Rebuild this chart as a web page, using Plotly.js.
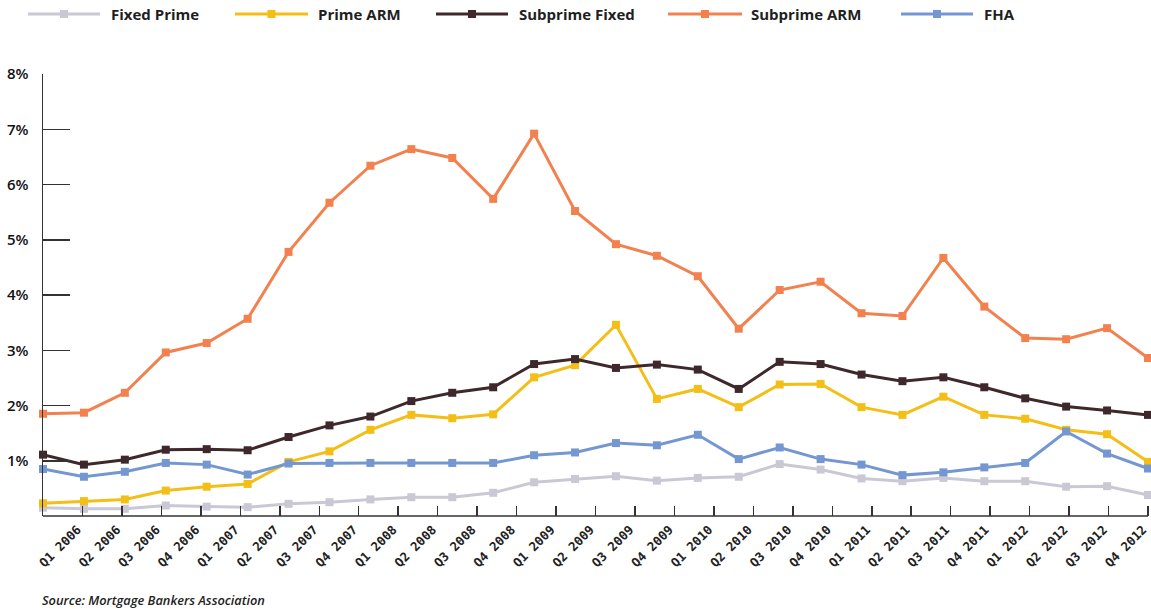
<!DOCTYPE html>
<html>
<head>
<meta charset="utf-8">
<script src="https://cdn.plot.ly/plotly-3.0.1.min.js"></script>
<style>html,body{margin:0;padding:0;background:#fff;}#chart{width:1151px;height:609px;}</style>
</head>
<body>
<div id="chart"></div>
<script>
const quarters = ['Q1 2006','Q2 2006','Q3 2006','Q4 2006','Q1 2007','Q2 2007','Q3 2007','Q4 2007',
  'Q1 2008','Q2 2008','Q3 2008','Q4 2008','Q1 2009','Q2 2009','Q3 2009','Q4 2009',
  'Q1 2010','Q2 2010','Q3 2010','Q4 2010','Q1 2011','Q2 2011','Q3 2011','Q4 2011',
  'Q1 2012','Q2 2012','Q3 2012','Q4 2012'];

const fixedPrime    = [0.15,0.13,0.13,0.19,0.17,0.16,0.22,0.25,0.30,0.34,0.34,0.42,0.61,0.67,0.72,0.64,0.69,0.71,0.94,0.84,0.68,0.63,0.69,0.63,0.63,0.53,0.54,0.38];
const primeARM      = [0.23,0.27,0.30,0.46,0.53,0.58,0.98,1.17,1.56,1.83,1.77,1.84,2.51,2.73,3.46,2.12,2.30,1.97,2.38,2.39,1.97,1.83,2.16,1.83,1.76,1.56,1.48,0.98];
const subprimeFixed = [1.11,0.93,1.02,1.20,1.21,1.19,1.43,1.64,1.80,2.08,2.23,2.33,2.75,2.84,2.68,2.74,2.65,2.30,2.79,2.75,2.56,2.44,2.51,2.33,2.13,1.98,1.91,1.83];
const subprimeARM   = [1.85,1.87,2.23,2.96,3.13,3.57,4.78,5.67,6.34,6.64,6.48,5.74,6.92,5.52,4.92,4.71,4.34,3.39,4.09,4.24,3.67,3.62,4.67,3.79,3.22,3.20,3.40,2.86];
const fha           = [0.85,0.71,0.80,0.96,0.93,0.75,0.95,0.96,0.96,0.96,0.96,0.96,1.10,1.15,1.32,1.28,1.47,1.03,1.24,1.03,0.93,0.74,0.79,0.88,0.96,1.53,1.13,0.86];

const seriesNames  = ['Fixed Prime','Prime ARM','Subprime Fixed','Subprime ARM','FHA'];
const seriesValues = [fixedPrime, primeARM, subprimeFixed, subprimeARM, fha];
const seriesColors = ['#cbc8d5','#f3bf17','#3f282c','#f2814f','#7497d1'];

const yTickVals   = [1,2,3,4,5,6,7,8];
const yTickLabels = ['1%','2%','3%','4%','5%','6%','7%','8%'];
const sourceText  = 'Source: Mortgage Bankers Association';

// pixel geometry: data span 43..1148, plot frame extended to 1150 so the last tick is not clipped
const W = 1151, H = 609;
const L = 43, R = 1148, RF = 1150, T = 74, B = 516;
const stretch = (RF - L) / (R - L);
const px = x => (x - L) / (RF - L);
const py = y => (B - y) / (B - T);

const traces = seriesNames.map((name, i) => ({
  type: 'scatter', mode: 'lines+markers', name: name,
  x: quarters, y: seriesValues[i],
  line: {color: seriesColors[i], width: 3},
  marker: {symbol: 'square', size: 8, color: seriesColors[i]},
  cliponaxis: false, showlegend: false, hoverinfo: 'x+y+name'
}));
// carrier trace for the label axis
traces.push({type: 'scatter', x: [], y: [], xaxis: 'x2', yaxis: 'y', showlegend: false, hoverinfo: 'skip'});

// custom legend geometry (pixels)
const legLine  = [[28,100],[235,308],[436,508],[668,742],[901,973]];
const legTextX = [110, 317, 518, 750, 983];
const legY = 14;

const shapes = [];
const annotations = [];
seriesNames.forEach((name, i) => {
  const [a, b] = legLine[i];
  shapes.push({type: 'line', xref: 'paper', yref: 'paper', x0: px(a), x1: px(b), y0: py(legY), y1: py(legY),
    line: {color: seriesColors[i], width: 3}});
  shapes.push({type: 'rect', xref: 'paper', yref: 'paper', xsizemode: 'pixel', ysizemode: 'pixel',
    xanchor: px((a + b) / 2), yanchor: py(legY), x0: -4, x1: 4, y0: -4, y1: 4,
    fillcolor: seriesColors[i], line: {width: 0}});
  annotations.push({xref: 'paper', yref: 'paper', x: px(legTextX[i]), y: py(legY), xanchor: 'left', yanchor: 'middle',
    showarrow: false, text: name, borderpad: 0,
    font: {family: 'Open Sans, sans-serif', size: 15, weight: 700, color: '#1f1f1f'}});
});
annotations.push({xref: 'paper', yref: 'paper', x: px(41), y: py(600), xanchor: 'left', yanchor: 'middle',
  showarrow: false, text: sourceText, borderpad: 0,
  font: {family: 'Open Sans, sans-serif', size: 12.8, weight: 600, style: 'italic', color: '#222'}});

const layout = {
  width: W, height: H,
  margin: {l: L, r: W - RF, t: T, b: H - B, pad: 0},
  paper_bgcolor: '#fff', plot_bgcolor: '#fff',
  showlegend: false,
  xaxis: {type: 'category', categoryorder: 'array', categoryarray: quarters,
    range: [0, (quarters.length - 1) * stretch], showticklabels: false, ticks: '', showgrid: false,
    zeroline: false, showline: false, fixedrange: true},
  xaxis2: {overlaying: 'x', anchor: 'y', side: 'bottom', type: 'linear',
    range: [0, quarters.length * stretch], tickmode: 'array',
    tickvals: quarters.map((q, k) => k + 1), ticktext: quarters,
    ticks: 'inside', ticklen: 10, tickwidth: 1.5, tickcolor: '#333',
    showline: false, showgrid: false, zeroline: false,
    tickangle: -45, ticklabelstandoff: 3, ticklabelshift: -5, ticklabeloverflow: 'allow',
    tickfont: {family: 'DejaVu Sans Mono, monospace', size: 12.5, weight: 700, color: '#222'}},
  yaxis: {range: [0, 8], tickmode: 'array', tickvals: yTickVals, ticktext: yTickLabels,
    ticks: 'inside', ticklen: 27, tickwidth: 1.5, tickcolor: '#333',
    showline: true, linecolor: '#333', linewidth: 1.5, showgrid: false, zeroline: false,
    ticklabelstandoff: 10,
    tickfont: {family: 'Open Sans, sans-serif', size: 15, weight: 600, color: '#111'}},
  shapes: shapes.concat([
    // x axis baseline from the y axis to the last quarter
    {type: 'line', xref: 'paper', yref: 'paper', x0: 0, x1: px(R), y0: 0, y1: 0,
     line: {color: '#333', width: 1.5}}
  ]),
  annotations: annotations
};

Plotly.newPlot('chart', traces, layout, {displayModeBar: false, staticPlot: true});
</script>
</body>
</html>
